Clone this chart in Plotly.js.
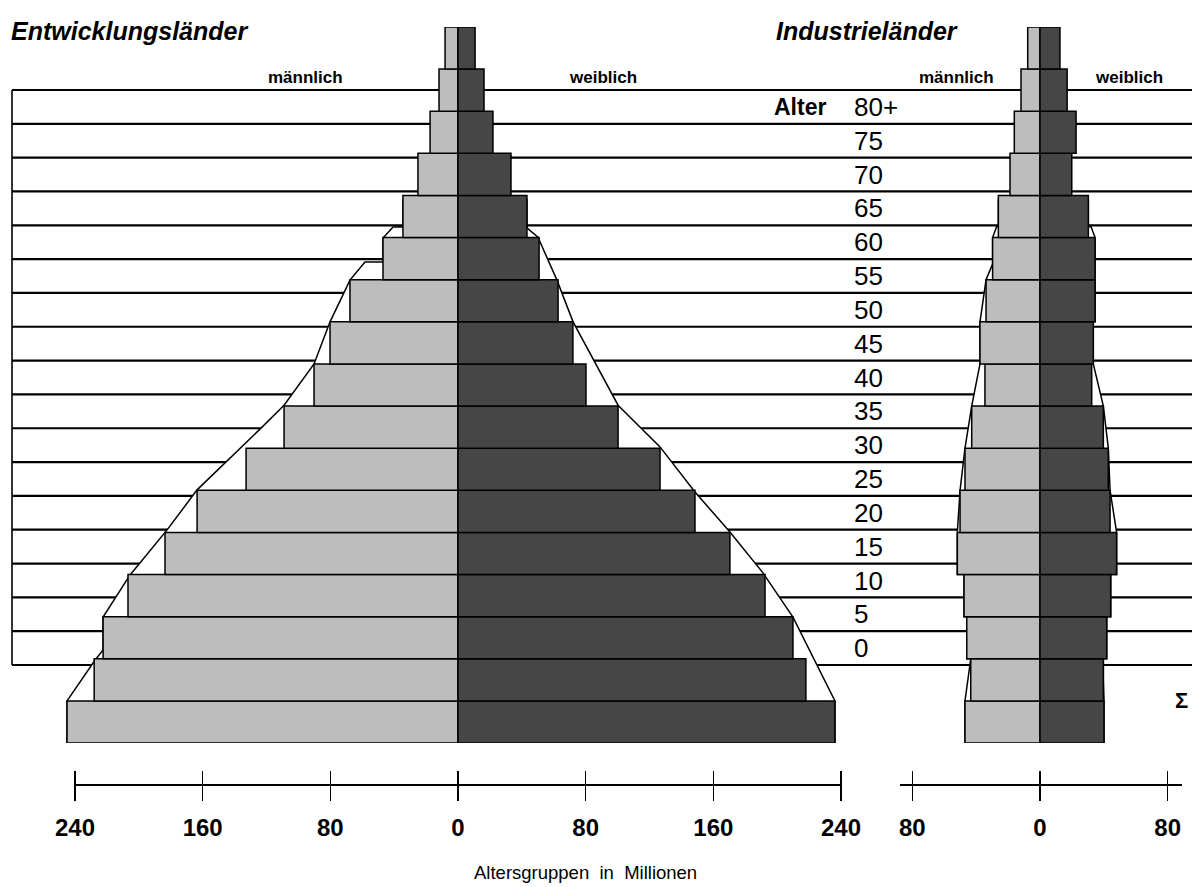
<!DOCTYPE html>
<html>
<head>
<meta charset="utf-8">
<script src="https://cdn.plot.ly/plotly-3.0.1.min.js"></script>
<style>
html,body{margin:0;padding:0;background:#fff;}
#chart{width:1192px;height:887px;}
</style>
</head>
<body>
<div id="chart"></div>
<script>
// ---------------- data (millions) ----------------
const ageLabels = ['0','5','10','15','20','25','30','35','40','45','50','55','60','65','70','75','80+'];

// Entwicklungsländer
const devMale   = [245.0, 228.0, 222.4, 206.8, 183.6, 163.5, 132.8, 109.0, 90.2, 80.2, 67.7, 47.0, 34.5, 25.1, 17.5, 11.9, 8.1];
const devFemale = [236.2, 218.0, 209.9, 192.4, 170.4, 148.5, 126.6, 100.3, 80.2, 72.0, 62.7, 50.8, 43.2, 33.2, 21.9, 16.3, 10.7];

// Industrieländer
const indMale   = [47.0, 43.4, 45.9, 47.6, 51.8, 50.1, 47.0, 42.8, 34.5, 37.6, 33.8, 29.7, 26.1, 18.8, 16.1, 11.9, 7.7];
const indFemale = [40.1, 39.7, 41.8, 44.3, 48.0, 43.9, 42.8, 39.7, 32.4, 33.4, 34.5, 34.5, 30.3, 19.9, 22.6, 17.0, 12.5];

// white outline (upper faces of the steps): value in millions and level in age-band boundaries
const devEnvMaleVal   = [245.0, 245.0, 227.4, 222.4, 222.4, 205.5, 182.3, 163.5, 122.8, 109.0, 90.2, 80.2, 67.7, 58.3, 47.0, 47.0, 40.7, 34.5, 34.5];
const devEnvMaleLvl   = [0, 1.0, 1.97, 2.21, 2.99, 3.99, 5.06, 6.01, 7.5, 8.02, 9.0, 10.0, 10.99, 11.42, 11.42, 11.99, 12.25, 12.25, 12.9];
const devEnvFemaleVal = [236.2, 236.2, 209.9, 191.1, 170.4, 148.5, 126.6, 100.3, 72.1, 62.0, 50.1, 43.2, 43.2];
const devEnvFemaleLvl = [0, 1.0, 2.99, 4.04, 5.01, 5.96, 7.03, 8.02, 10.0, 10.99, 12.01, 12.23, 12.9];
const indEnvMaleVal   = [47.0, 47.0, 43.4, 45.9, 45.9, 47.6, 47.6, 51.8, 51.8, 50.1, 47.0, 42.8, 37.6, 37.6, 33.8, 29.7, 29.7, 27.2, 26.1, 26.1];
const indEnvMaleLvl   = [0, 1, 2, 2, 3, 3, 4, 4, 5, 6, 7, 8, 9, 10, 11, 11.37, 12, 12.26, 12.26, 12.9];
const indEnvFemaleVal = [40.1, 40.1, 39.7, 39.7, 41.8, 41.8, 44.3, 44.3, 48.0, 48.0, 43.9, 42.8, 39.7, 33.4, 33.4, 34.5, 34.5, 34.5, 32.0, 30.3, 30.3];
const indEnvFemaleLvl = [0, 1, 1.5, 2, 2, 3, 3, 4, 4, 5, 6, 7, 8, 9, 10, 10, 11, 12, 12.26, 12.26, 12.9];

// axis ticks
const devTicks = [-240, -160, -80, 0, 80, 160, 240];
const indTicks = [-80, 0, 80];

// ---------------- layout helpers ----------------
const W = 1192, H = 887;
const FONT = 'Liberation Sans, Arial, Helvetica, sans-serif';
const MALE = '#bdbdbd', FEMALE = '#464646';
const px = v => v / W;
const py = v => 1 - v / H;
const K = 1.5958;                 // pixels per million
const idx = ageLabels.map((_, i) => i);

function envPath(vals, lvls, sign) {
  const pts = vals.map((v, i) => (sign * v) + ',' + (lvls[i] - 0.5));
  const top = lvls[lvls.length - 1] - 0.5;
  return 'M' + pts.join(' L') + ' L0,' + top + ' L0,' + (lvls[0] - 0.5) + ' Z';
}

function barTrace(vals, sign, color, xa, name) {
  return {
    type: 'bar', orientation: 'h', name: name,
    x: vals.map(v => sign * v), y: idx,
    xaxis: xa, yaxis: 'y', width: 1,
    marker: {color: color, line: {color: '#000', width: 1.5}},
    hoverinfo: 'skip', showlegend: false
  };
}

const data = [
  barTrace(devMale, -1, MALE, 'x', 'männlich'),
  barTrace(devFemale, 1, FEMALE, 'x', 'weiblich'),
  barTrace(indMale, -1, MALE, 'x2', 'männlich'),
  barTrace(indFemale, 1, FEMALE, 'x2', 'weiblich'),
  { type: 'scatter', mode: 'markers', x: idx.map(() => 0), y: idx, xaxis: 'x', yaxis: 'y2',
    marker: {opacity: 0, size: 1}, hoverinfo: 'skip', showlegend: false }
];

const shapes = [];
// horizontal age band lines
for (let k = 0; k <= ageLabels.length; k++) {
  shapes.push({type: 'line', layer: 'below', xref: 'paper', yref: 'y2',
    x0: px(12), x1: 1, y0: k - 0.5, y1: k - 0.5, line: {color: '#000', width: 2.2}});
}
shapes.push({type: 'line', layer: 'below', xref: 'paper', yref: 'y2',
  x0: px(12), x1: px(12), y0: -0.5, y1: ageLabels.length - 0.5, line: {color: '#000', width: 1.6}});
// outlines
const envStyle = {fillcolor: '#fff', line: {color: '#000', width: 1.5}, layer: 'below'};
shapes.push(Object.assign({type: 'path', xref: 'x', yref: 'y', path: envPath(devEnvMaleVal, devEnvMaleLvl, -1)}, envStyle));
shapes.push(Object.assign({type: 'path', xref: 'x', yref: 'y', path: envPath(devEnvFemaleVal, devEnvFemaleLvl, 1)}, envStyle));
shapes.push(Object.assign({type: 'path', xref: 'x2', yref: 'y', path: envPath(indEnvMaleVal, indEnvMaleLvl, -1)}, envStyle));
shapes.push(Object.assign({type: 'path', xref: 'x2', yref: 'y', path: envPath(indEnvFemaleVal, indEnvFemaleLvl, 1)}, envStyle));
// axis base lines
shapes.push({type: 'line', xref: 'x', yref: 'paper', x0: devTicks[0], x1: devTicks[devTicks.length - 1],
  y0: py(785), y1: py(785), line: {color: '#000', width: 2}});
shapes.push({type: 'line', xref: 'x2', yref: 'paper', x0: indTicks[0] - 9, x1: indTicks[indTicks.length - 1] + 9,
  y0: py(785), y1: py(785), line: {color: '#000', width: 2}});

function ann(text, x, y, size, opts) {
  return Object.assign({text: text, x: px(x), y: py(y), xref: 'paper', yref: 'paper',
    showarrow: false, xanchor: 'left', yanchor: 'middle',
    font: {family: FONT, size: size, color: '#000'}}, opts || {});
}

const annotations = [
  ann('<i><b>Entwicklungsländer</b></i>', 9, 31, 25),
  ann('<i><b>Industrieländer</b></i>', 774, 31, 25),
  ann('<b>männlich</b>', 305, 77, 17, {xanchor: 'center'}),
  ann('<b>weiblich</b>', 603, 77, 17, {xanchor: 'center'}),
  ann('<b>männlich</b>', 956, 77, 17, {xanchor: 'center'}),
  ann('<b>weiblich</b>', 1129, 77, 17, {xanchor: 'center'}),
  {text: '<b>Alter</b>', x: px(772), y: ageLabels.length - 1, xref: 'paper', yref: 'y2',
   showarrow: false, xanchor: 'left', yanchor: 'middle', font: {family: FONT, size: 23, color: '#000'}},
  ann('<b>Σ</b>', 1173, 700, 22),
  ann('Altersgruppen  in  Millionen', 585, 872, 18.5, {xanchor: 'center'})
];

const tickFont = {family: FONT, size: 24, color: '#000', weight: 'bold'};

const layout = {
  width: W, height: H,
  margin: {l: 0, r: 0, t: 0, b: 0, pad: 0},
  paper_bgcolor: '#fff', plot_bgcolor: 'rgba(0,0,0,0)',
  barmode: 'relative', bargap: 0,
  showlegend: false,
  xaxis: {domain: [0, px(900)], range: [-458 / K, (900 - 458) / K],
    anchor: 'free', position: py(770), side: 'bottom',
    tickmode: 'array', tickvals: devTicks, ticktext: devTicks.map(v => String(Math.abs(v))),
    ticks: 'outside', ticklen: 30, tickwidth: 1.5, tickcolor: '#000', ticklabelstandoff: 6,
    tickfont: tickFont, showgrid: false, zeroline: false, showline: false, fixedrange: true},
  xaxis2: {domain: [px(900), 1], range: [(900 - 1040) / K, (1192 - 1040) / K],
    anchor: 'free', position: py(770), side: 'bottom',
    tickmode: 'array', tickvals: indTicks, ticktext: indTicks.map(v => String(Math.abs(v))),
    ticks: 'outside', ticklen: 30, tickwidth: 1.5, tickcolor: '#000', ticklabelstandoff: 6,
    tickfont: tickFont, showgrid: false, zeroline: false, showline: false, fixedrange: true},
  yaxis: {domain: [py(743), py(27)], range: [-0.5, ageLabels.length - 0.5],
    visible: false, showgrid: false, zeroline: false, fixedrange: true},
  yaxis2: {overlaying: 'y', anchor: 'free', position: px(853), side: 'right',
    range: [-0.5 - (743 - 665) / ((665 - 90) / 17), ageLabels.length - 0.5 + (90 - 27) / ((665 - 90) / 17)],
    tickmode: 'array', tickvals: idx, ticktext: ageLabels, ticks: '',
    tickfont: {family: FONT, size: 26, color: '#000'},
    showgrid: false, zeroline: false, showline: false, fixedrange: true},
  shapes: shapes,
  annotations: annotations
};

Plotly.newPlot('chart', data, layout, {displayModeBar: false, staticPlot: true});
</script>
</body>
</html>
